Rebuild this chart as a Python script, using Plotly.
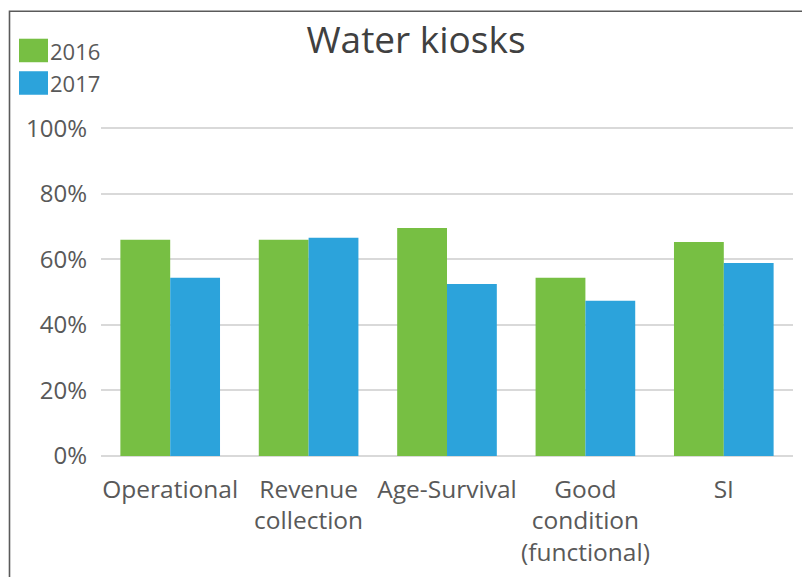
import plotly.graph_objects as go

categories = ["Operational", "Revenue<br>collection", "Age-Survival", "Good<br>condition<br>(functional)", "SI"]
values_2016 = [0.66, 0.66, 0.696, 0.544, 0.653]
values_2017 = [0.544, 0.666, 0.525, 0.474, 0.589]
series_names = ["2016", "2017"]
colors = ["#77BF43", "#2CA3DB"]
tick_vals = [0, 0.2, 0.4, 0.6, 0.8, 1.0]
tick_text = ["0%", "20%", "40%", "60%", "80%", "100%"]

FONT = "Open Sans, DejaVu Sans, sans-serif"
fig = go.Figure()
for name, vals, c in zip(series_names, [values_2016, values_2017], colors):
    fig.add_trace(go.Bar(x=categories, y=vals, name=name, marker=dict(color=c, line=dict(width=0)),
                         showlegend=False))

# page has an 8px body margin; work in page coordinates
OFF = 8
PW, PH = 810, 577
W, H = PW - OFF, PH - OFF
YMAX = 1.01
PB = 456
P100 = 128.5
PT = PB - (PB - P100) * YMAX
PL, PR = 101, 793  # plot area in page coords
L, R, T, B = PL - OFF, PW - PR, PT - OFF, PH - PB
pw, ph = PR - PL, PB - PT


def px(x):
    return (x - PL) / pw


def py(y):
    return (PB - y) / ph


shapes = []
# outer frame
shapes.append(dict(type="rect", xref="paper", yref="paper", x0=px(9.5), x1=px(840), y0=py(11.5), y1=py(620),
                   line=dict(color="#5a5a5a", width=1.6), fillcolor="rgba(0,0,0,0)", layer="below"))
annotations = []
for i, (name, c) in enumerate(zip(series_names, colors)):
    top = 39 + i * 32.5
    shapes.append(dict(type="rect", xref="paper", yref="paper", x0=px(19), x1=px(48), y0=py(top + 23.5), y1=py(top),
                       fillcolor=c, line=dict(width=0)))
    annotations.append(dict(text=name, xref="paper", yref="paper", x=px(48), y=py(top + 12), xanchor="left",
                            yanchor="middle", showarrow=False, font=dict(family=FONT, size=22, color="#595959")))

fig.update_layout(
    width=W, height=H,
    margin=dict(l=L, r=R, t=T, b=B, autoexpand=False),
    paper_bgcolor="white", plot_bgcolor="white",
    title=dict(text="Water kiosks", x=(416 - OFF) / W, xanchor="center", y=1 - (40 - OFF) / H, yanchor="middle",
               font=dict(family=FONT, size=37, color="#404040")),
    barmode="group", bargap=0.28, bargroupgap=0,
    font=dict(family=FONT, color="#595959"),
    shapes=shapes, annotations=annotations,
    xaxis=dict(tickfont=dict(size=24.5, color="#595959"), showgrid=False, showline=False, ticks="",
               ticklabelstandoff=16),
    yaxis=dict(range=[0, YMAX], tickvals=tick_vals, ticktext=tick_text, tickfont=dict(size=24, color="#595959"),
               showgrid=True, gridcolor="#D9D9D9", gridwidth=1.6, zeroline=True, zerolinecolor="#D9D9D9",
               zerolinewidth=1.6, ticks="", ticklabelstandoff=13),
)
fig.write_html("out.html")
